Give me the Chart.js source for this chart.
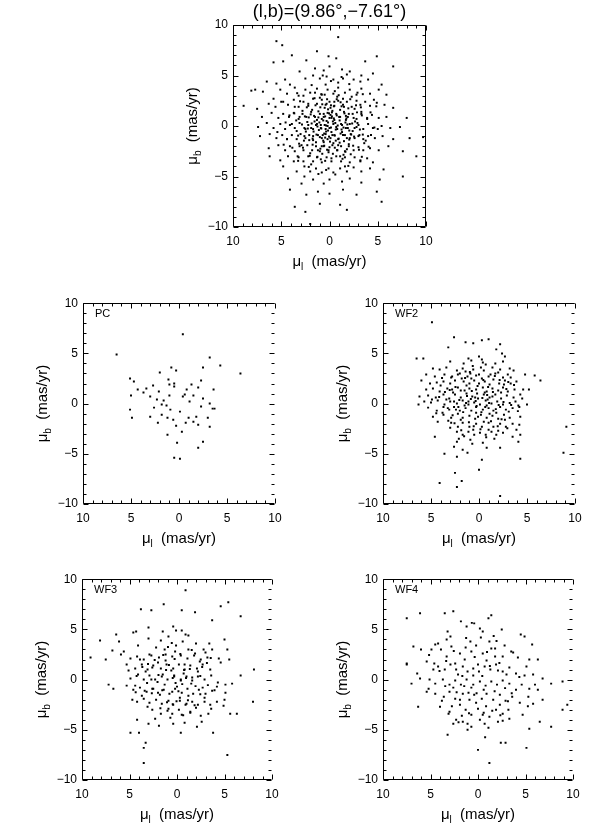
<!DOCTYPE html>
<html><head><meta charset="utf-8">
<script src="https://cdn.jsdelivr.net/npm/chart.js@4.4.1/dist/chart.umd.min.js"></script>
<style>
html,body{margin:0;padding:0;background:#fff;}
body{width:600px;height:832px;position:relative;overflow:hidden;}
canvas{position:absolute;}
</style></head><body>
<canvas id="cTop"></canvas>
<canvas id="cPC"></canvas>
<canvas id="cWF2"></canvas>
<canvas id="cWF3"></canvas>
<canvas id="cWF4"></canvas>
<script>
// ---- tick labels ----
const tickValues = [-10, -5, 0, 5, 10];
const xTickLabels = ['10', '5', '0', '5', '10'];
const yTickLabels = ['\u221210', '\u22125', '0', '5', '10'];

// ---- titles ----
const mainTitle = '(l,b)=(9.86\u00b0,\u22127.61\u00b0)';
const panelNames = ['PC', 'WF2', 'WF3', 'WF4'];

// ---- data: [mu_l, mu_b] in mas/yr ----
const topPoints = [
[-0.9,8.8],[5.5,8.4],[4.9,8.0],[1.3,7.4],[3.9,7.0],[5.8,6.3],[4.8,6.4],[2.4,6.5],[0.1,6.9],[-0.7,6.7],[-3.7,6.4],[-4.9,6.9],[-6.6,5.9],
[1.5,5.7],[0.6,5.5],[0.0,5.9],[-1.3,5.6],[-2.1,5.4],[3.1,5.4],[-3.3,5.0],[-4.5,5.2],
[6.5,4.4],[5.5,4.2],[4.6,4.6],[4.1,4.1],[2.5,4.7],[1.7,5.0],[1.0,4.7],[0.3,4.9],[-0.4,4.6],[-1.4,4.7],[-2.5,4.6],[-3.2,4.4],[-4.0,4.6],[-5.4,4.1],
[7.7,3.6],[8.1,3.5],[6.9,3.4],[5.8,2.7],[5.1,3.6],[4.4,3.2],[3.6,3.8],[3.2,3.0],[2.5,3.6],[2.0,3.3],[1.3,3.7],[0.8,3.1],[0.2,3.6],[-0.4,3.2],[-0.9,3.8],[-1.6,3.3],[-2.1,3.6],[-2.8,3.1],[-3.3,3.7],[-4.2,3.2],[-5.1,3.6],[-5.9,3.1],
[8.9,2.0],[7.5,1.7],[6.3,2.2],[5.6,1.9],[5.0,2.4],[4.3,2.1],[3.7,2.6],[3.2,1.9],[2.7,2.4],[2.2,2.0],[1.7,2.7],[1.3,2.2],[0.8,2.6],[0.4,2.1],[0.0,2.4],[-0.5,2.0],[-0.9,2.5],[-1.4,2.1],[-1.8,2.4],[-2.3,1.9],[-2.8,2.5],[-3.2,2.1],[-3.7,2.4],[-4.2,2.0],[-4.9,2.3],[-5.7,2.1],[-6.6,1.8],
[7.0,0.9],[6.0,1.3],[5.3,0.8],[4.8,1.2],[4.2,0.9],[3.7,1.3],[3.2,0.7],[2.8,1.2],[2.4,0.9],[1.9,1.4],[1.5,0.9],[1.0,1.2],[0.6,0.9],[0.2,1.3],[-0.2,0.8],[-0.7,1.2],[-1.1,0.9],[-1.5,1.4],[-1.9,0.9],[-2.4,1.2],[-2.8,0.7],[-3.3,1.2],[-3.9,0.8],[-4.4,1.1],[-5.1,0.8],[-5.9,0.9],[-8.0,0.8],
[7.4,-0.1],[6.5,0.3],[5.8,-0.2],[5.1,0.2],[4.6,-0.3],[4.1,0.1],[3.6,-0.2],[3.1,0.3],[2.6,-0.2],[2.2,0.1],[1.7,-0.3],[1.3,0.2],[0.9,-0.2],[0.5,0.1],[0.0,-0.2],[-0.4,0.2],[-0.8,-0.3],[-1.3,0.1],[-1.7,-0.2],[-2.1,0.2],[-2.6,-0.2],[-3.0,0.1],[-3.5,-0.3],[-4.0,0.2],[-4.5,-0.2],[-5.4,0.0],[-6.3,-0.2],[-7.3,-0.1],
[7.2,-1.0],[6.2,-0.8],[5.5,-1.2],[4.9,-0.9],[4.4,-1.3],[3.9,-0.9],[3.4,-1.3],[3.0,-0.8],[2.5,-1.2],[2.1,-0.9],[1.7,-1.4],[1.2,-0.9],[0.8,-1.2],[0.4,-0.8],[-0.1,-1.2],[-0.5,-0.9],[-0.9,-1.3],[-1.4,-0.9],[-1.8,-1.2],[-2.2,-0.8],[-2.6,-1.2],[-3.1,-0.9],[-3.5,-1.3],[-4.0,-1.0],[-4.7,-1.2],[-5.5,-1.0],[-6.6,-1.3],[-8.3,-1.2],[-9.7,-1.1],
[6.3,-2.2],[5.3,-1.9],[4.6,-2.4],[4.1,-2.0],[3.6,-2.5],[3.1,-2.0],[2.7,-2.4],[2.3,-1.9],[1.8,-2.4],[1.4,-2.0],[1.0,-2.5],[0.6,-2.0],[0.1,-2.4],[-0.3,-1.9],[-0.8,-2.4],[-1.2,-2.0],[-1.6,-2.5],[-2.0,-2.0],[-2.5,-2.4],[-3.0,-2.1],[-3.5,-2.4],[-4.2,-2.2],[-5.1,-2.4],[-6.1,-2.0],
[6.2,-3.0],[5.1,-3.4],[4.3,-3.0],[3.7,-3.5],[3.2,-3.1],[2.7,-3.5],[2.2,-3.0],[1.7,-3.5],[1.3,-3.1],[0.8,-3.6],[0.3,-3.1],[-0.2,-3.5],[-0.7,-3.0],[-1.2,-3.5],[-1.6,-3.1],[-2.1,-3.6],[-2.6,-3.1],[-3.2,-3.5],[-3.9,-3.2],[-4.5,-3.6],[-7.6,-2.5],[-9.0,-3.0],
[4.8,-4.0],[3.4,-4.5],[2.6,-4.0],[2.0,-4.5],[1.4,-4.2],[0.8,-4.6],[0.1,-4.2],[-0.4,-4.6],[-1.1,-4.2],[-1.8,-4.5],[-2.5,-4.1],[-3.3,-4.5],[-4.2,-4.2],[-5.6,-4.3],
[4.3,-5.2],[2.9,-5.7],[1.7,-5.3],[0.6,-5.7],[0.0,-5.3],[-1.3,-5.5],[-2.1,-5.2],[-3.3,-5.6],[-5.2,-5.3],[-7.6,-5.0],
[2.4,-6.8],[1.2,-6.5],[0.0,-6.7],[-1.4,-6.3],[-2.8,-6.8],[-4.9,-6.5],[4.1,-6.3],
[1.0,-7.7],[-1.1,-7.8],[-5.4,-7.5],[2.5,-8.5],[3.6,-8.0],[-1.8,-8.3],[2.0,-9.7],
[0.3,0.5],[-0.6,0.3],[1.1,-0.4],[-1.7,0.6],[2.3,0.4],[-2.4,-0.5],[0.7,-0.9],[-0.2,-0.6],[1.6,1.0],[-1.1,1.6],[0.5,1.8],[-2.0,1.2],[2.6,-1.0],[-2.9,0.3],[3.1,0.9],[-0.4,-1.7],[1.4,-1.6],[-1.5,-1.5],[0.1,-2.6],[-2.2,-2.8],[2.0,-2.7],[-0.8,2.9],[1.0,2.8],[-1.9,-0.2],[0.9,0.1],[-0.1,1.1],[1.9,-0.2],[-1.3,-0.6],[0.4,-0.3],[-0.7,-0.1],
[0.0,0.8],[-0.3,1.5],[0.6,1.2],[-1.0,0.9],[1.3,0.6],[-1.6,-0.9],[0.2,-1.3],[-0.9,-1.9],[1.7,-1.0],[-2.5,0.8],[2.8,1.5],[-3.0,-1.0],[3.4,-0.5],[-0.5,2.4],[0.8,-2.0],[-1.4,2.7],[2.2,2.2],[-2.6,1.7],[1.2,-2.4],[-1.8,-2.3],[0.5,3.1],[-0.2,-3.2],[2.9,-1.9],[-3.3,1.4],[3.6,1.9],[-3.6,-1.7],[1.5,3.3],[-1.1,-3.0],[0.9,-3.3],[-2.3,2.9],
[-0.5,0.6],[0.2,0.0],[-1.2,0.2],[0.8,0.7],[-0.3,-0.9],[1.0,-1.1],[-2.1,-1.2],[1.8,1.6],[-1.5,1.9],[0.3,2.2],[-0.8,-2.4],[2.5,-0.3],[-2.8,-0.1],[0.6,-1.6],[-0.1,1.8],[1.4,0.1],[-1.7,1.0],[2.1,-1.4],[-2.0,-1.8],[0.0,-2.1],
[3.9,0.2],[-3.9,0.7],[4.4,-1.3],[-4.3,-0.9],[2.7,3.0],[-2.9,3.3],[0.4,4.1],[-0.9,4.3],[1.9,-3.8],[-1.6,-4.0],[3.3,-3.0],[-3.2,-3.4],[4.8,2.4],[-4.6,2.6],[5.4,-0.6],[-5.0,-0.3],[0.7,5.0],[-1.8,5.1],[2.6,-5.0],[-0.6,-4.8],
[0.15,0.35],[-0.45,0.75],[0.85,-0.25],[-1.25,-0.35],[1.55,0.45],[-1.85,0.15],[0.35,-0.55],[-0.25,1.35],[1.15,1.45],[-0.95,-1.25],
[0.65,-1.45],[-1.55,1.25],[2.15,0.85],[-2.25,-0.85],[0.05,-1.05],[-0.65,-0.35],[1.35,-0.85],[-1.05,0.55],[0.45,0.95],[-0.15,-0.15],
[2.45,-0.55],[-2.65,0.45],[1.75,-1.85],[-1.95,1.75],[0.75,2.15],[-0.55,-2.15],[2.85,0.15],[-3.15,-0.35],[0.25,2.65],[-0.35,-2.75],
[1.05,0.35],[-1.45,-0.15],[0.55,-0.75],[-0.75,1.05],[1.85,0.25],[-2.05,-0.45],[0.95,-2.25],[-1.15,2.35],[2.35,1.85],[-2.45,-1.95],
[0.15,1.65],[-0.05,-1.55],[1.45,2.05],[-1.65,-2.55],[2.65,-1.45],[-2.85,1.35],[3.25,-0.95],[-3.35,1.05],[0.85,3.15],[-0.95,3.05],
[1.25,-3.05],[-1.35,-3.25],[3.05,2.45],[-3.05,-2.35],[2.05,-2.95],[-2.15,2.65],[0.45,-3.45],[-0.55,3.45],[3.45,0.55],[-3.45,-0.85],
[0.35,0.05],[-0.85,0.05],[0.65,0.55],[-0.35,0.45],[1.25,-0.05],[-1.15,-0.75],[0.15,-0.45],[-0.55,-0.95],[0.95,1.85],[-1.75,0.75],
[1.65,-0.55],[-2.35,0.25],[2.25,-0.25],[-0.15,2.05],[0.55,-1.95],[-1.25,1.95],[1.95,1.15],[-2.05,-1.35],[0.25,-2.35],[-0.45,1.95],
[2.75,-2.15],[-2.75,2.05],[3.65,1.25],[-3.75,-1.45],[1.55,2.75],[-1.45,-2.85],[0.75,-2.75],[-0.75,2.65],[3.15,-1.75],[-3.25,1.85],
[-0.25,0.95],[0.45,-1.15],[-1.05,-1.65],[1.15,0.85],[-1.65,0.35],[1.75,-1.25],[-0.65,-1.45],[0.05,1.25],[-2.55,-1.05],[2.55,0.95],
[4.15,1.05],[-4.25,1.35],[3.85,-2.15],[-4.05,-2.05],[1.85,4.05],[-2.05,4.15],[2.15,-4.05],[-1.95,-3.95],[4.55,0.35],[-4.65,-0.15],
[0.35,-4.35],[-0.15,4.45],[3.35,3.25],[-3.45,3.15],[3.25,-3.45],[-3.35,-3.05],[4.75,-1.85],[-4.85,1.95],[1.15,-4.75],[-1.25,4.85]
];

const pcPoints = [
[-0.4,6.9],[6.5,4.9],[-3.2,4.6],[-4.3,3.8],[-6.4,3.0],[0.8,3.6],[0.3,3.3],[2.0,3.1],[5.1,2.5],[4.7,2.2],[1.1,2.4],[1.0,1.9],[0.5,1.7],[-1.3,1.9],[-2.3,2.3],[-2.0,1.6],[4.3,1.4],[3.4,1.5],[2.7,1.8],[2.1,1.2],
[5.0,0.8],[1.0,0.8],[-0.4,0.7],[-1.5,0.8],[-0.8,1.4],[-2.5,0.5],[2.3,0.4],[3.0,0.7],[1.8,-0.1],[1.3,-0.2],[-3.2,0.0],[-3.5,-0.5],[-3.7,-0.5],[-2.3,-0.3],[-0.1,-0.8],[5.1,-0.6],[4.9,-1.4],[3.0,-1.3],[1.8,-1.1],[1.2,-1.4],
[0.6,-1.6],[-1.0,-1.4],[-1.5,-1.8],[-1.8,-1.3],[-2.0,-2.1],[-3.0,-1.4],[-3.2,-2.3],[2.2,-1.9],[0.3,-2.2],[-0.7,-1.9],[-0.3,-2.8],[1.2,-3.1],[-2.5,-3.8],[0.2,-3.9],[-2.0,-4.4],[0.5,-5.4],[-0.1,-5.5],[-2.5,3.6],[0.5,2.0],[-3.6,1.4],
[3.7,1.1],[2.6,-0.4],[-1.1,0.2],[0.9,-0.6],[-0.6,0.9],[1.6,0.3]
];

const wf2Points = [
[4.9,8.1],[2.6,6.6],[-1.0,6.4],[-0.3,6.3],[1.4,6.1],[0.6,6.0],[3.2,5.6],[-2.2,5.9],[-1.8,5.4],[-2.4,5.0],
[6.5,4.5],[5.8,4.5],[1.1,4.5],[0.8,4.3],[0.0,4.7],[-0.3,4.4],[-2.7,4.7],[3.0,4.2],[-0.4,4.1],[-0.7,3.9],[-1.7,4.0],[-2.5,4.2],
[4.8,3.5],[4.1,3.4],[3.4,3.6],[2.3,3.3],[1.7,3.5],[0.6,3.4],[-0.5,3.3],[-1.4,3.6],[-2.2,3.4],[-3.2,3.5],[-3.6,3.3],
[5.5,2.9],[4.6,2.7],[3.6,2.9],[2.9,2.6],[2.2,2.9],[1.8,2.5],[1.2,2.7],[0.9,3.0],[0.3,2.8],[-0.3,2.5],[-1.0,2.7],[-1.7,3.0],[-2.5,2.6],[-3.0,2.9],[-4.8,2.9],[-5.8,2.8],
[6.0,2.3],[5.1,2.0],[4.4,2.1],[3.7,2.2],[3.0,2.0],[2.5,2.3],[1.6,2.2],[1.0,2.0],[0.5,2.3],[0.0,2.0],[-0.6,2.2],[-1.1,1.9],[-1.5,2.4],[-2.1,2.0],[-2.7,2.3],[-3.3,2.0],[-3.9,2.2],[-6.4,2.3],
[5.5,1.4],[4.8,1.5],[4.1,1.2],[3.3,1.5],[2.8,1.4],[2.2,1.6],[1.5,1.3],[1.0,1.5],[0.3,1.4],[-0.4,1.6],[-0.8,1.2],[-1.4,1.5],[-2.0,1.3],[-2.5,1.6],[-3.0,1.2],[-3.7,1.4],[-4.6,1.4],[-5.2,1.4],
[6.2,0.7],[5.3,0.8],[4.5,0.6],[3.7,0.9],[3.1,0.5],[2.5,0.9],[1.9,0.6],[1.3,1.0],[0.7,0.7],[0.1,0.5],[-0.5,0.9],[-1.1,0.6],[-1.7,0.9],[-2.3,0.5],[-2.9,0.8],[-3.6,0.6],[-4.3,0.9],
[6.3,-0.1],[5.7,0.2],[5.0,0.1],[4.3,0.3],[3.6,-0.1],[3.0,0.2],[2.3,0.0],[1.7,0.3],[1.1,-0.1],[0.5,0.1],[-0.1,-0.1],[-0.7,0.3],[-1.3,0.0],[-1.9,0.2],[-2.5,-0.1],[-3.2,0.05],[-4.1,-0.2],[-5.0,-0.1],
[5.3,-0.4],[4.4,-0.7],[3.7,-0.35],[3.1,-0.6],[2.6,-0.35],[2.0,-0.7],[1.4,-0.45],[0.8,-0.7],[0.3,-0.35],[-0.4,-0.6],[-1.0,-0.45],[-1.5,-0.7],[-2.2,-0.35],[-2.8,-0.6],[-3.5,-0.45],[-4.2,-0.35],
[3.7,-1.1],[2.9,-1.4],[2.2,-1.0],[1.7,-1.4],[1.0,-1.2],[0.4,-1.5],[-0.2,-1.1],[-0.8,-1.4],[-1.4,-1.2],[-2.0,-1.5],[-2.6,-1.1],[-3.2,-1.4],[-4.3,-1.3],[4.8,-1.3],
[2.9,-1.9],[2.2,-2.3],[1.7,-1.9],[1.0,-2.3],[0.3,-2.0],[-0.3,-2.3],[-1.0,-1.9],[-1.5,-2.3],[-2.2,-2.0],[-2.8,-2.3],[-3.5,-2.0],[-4.2,-2.1],
[2.3,-2.8],[1.7,-3.1],[1.1,-2.8],[0.5,-3.1],[-0.1,-2.9],[-0.7,-3.1],[-1.3,-2.8],[-1.8,-3.1],[-2.5,-2.9],[-3.5,-3.3],[-4.3,-3.1],[4.6,-3.3],
[2.3,-3.8],[0.7,-4.0],[2.6,-4.3],[-0.8,-4.4],[-2.2,-4.4],[-4.1,-3.8],[1.7,-4.6],
[3.6,-5.0],[2.3,-5.3],[1.2,-4.9],[-0.3,-5.6],[-4.3,-5.5],[-8.8,-4.9],[-9.1,-2.3],
[0.0,-6.6],[2.5,-6.9],[1.8,-7.7],[4.1,-7.9],[2.3,-8.3],[-2.2,-9.2],
[0.2,1.0],[-0.9,0.4],[1.5,-0.2],[-1.8,-0.9],[2.7,1.1],[-2.6,1.9],[0.8,2.5],[-0.5,-1.8],[1.9,-1.6],[-3.1,-0.8],[3.4,0.4],[-1.2,2.9],[0.6,-2.6],[2.0,3.0],[-2.0,-2.7],[4.0,1.8],[-3.8,0.2],[1.3,1.8],[-0.2,3.6],[3.0,-2.4],
[-1.6,-3.5],[0.1,-1.3],[-0.6,1.1],[1.1,0.2],[2.4,-0.6],[-2.3,1.1],[3.8,-0.9],[-3.3,2.6],[0.9,-3.6],[-1.0,-2.6],[2.8,2.7],[4.3,-1.8],[-4.5,0.5],[1.6,4.0],[-0.8,-0.2],[0.4,0.6],[-1.4,0.7],[1.9,1.3],[-2.7,-1.6],[3.2,-1.7],
[0.0,2.9],[-3.9,-2.6],[4.9,0.4],[2.1,-3.5],[-0.4,-3.9],[1.4,3.2],[-2.0,3.1],[0.3,-0.9],[-1.1,-1.0],[2.6,0.2],
[0.35,0.25],[-0.65,-0.35],[1.25,0.75],[-1.45,1.15],[2.15,-0.35],[-2.05,-0.15],[0.75,1.25],[-0.25,-0.85],[1.65,-0.85],[-1.25,-1.75],
[0.15,1.75],[-0.45,2.35],[2.45,1.65],[-2.85,1.45],[3.25,-0.45],[-3.35,-0.15],[1.05,-1.85],[-0.85,0.85],[0.55,-2.25],[-1.65,2.75],
[2.75,-1.15],[-2.35,-1.55],[3.55,1.15],[-3.05,2.15],[1.45,2.55],[-0.15,-2.55],[0.95,3.15],[-1.95,-2.25],[4.15,0.65],[-4.05,-0.75],
[2.05,0.35],[-1.05,0.05],[0.25,-0.25],[1.85,-2.65],[-2.55,0.15],[3.05,1.35],[-0.75,-3.35],[0.65,3.75],[-3.65,1.85],[4.45,-0.95],
[1.35,0.05],[-0.35,0.55],[2.55,-1.95],[-1.75,-0.55],[0.85,0.45],[-2.15,2.35],[3.85,2.55],[-0.95,1.65],[1.55,-3.25],[-2.95,-2.45]
];

const wf3Points = [
[-0.9,8.9],[1.4,7.5],[-0.5,6.9],[3.8,7.0],[2.7,6.9],[-1.9,6.7],[-5.4,7.7],[-4.6,7.3],[-3.7,5.9],[-6.7,6.3],
[8.1,3.9],[6.4,4.5],[6.1,3.8],[4.6,4.7],[4.3,4.8],[3.0,4.1],[3.0,5.2],[1.5,4.8],[0.4,5.3],[0.1,4.9],[-0.5,4.9],[-1.2,4.4],[-2.0,3.6],[-2.8,3.0],[-3.7,3.0],[-5.0,4.0],[-5.3,3.0],
[6.8,2.9],[5.9,2.5],[9.1,2.2],[7.5,2.0],[4.9,2.1],[4.2,2.3],[3.5,2.0],[2.7,2.4],[1.9,2.2],[1.2,2.5],[0.5,2.3],[-0.4,2.4],[-1.1,2.1],[-1.8,2.4],[-2.5,2.0],[-3.2,2.2],[-4.4,2.1],[-5.5,2.0],
[5.3,1.5],[4.4,1.1],[3.7,1.5],[3.1,1.0],[2.5,1.4],[1.7,1.1],[1.1,1.5],[0.4,1.1],[-0.2,1.5],[-0.8,1.0],[-1.4,1.4],[-2.1,1.1],[-2.7,1.5],[-3.5,1.0],[-8.1,1.0],[-6.7,0.4],
[7.2,-0.5],[6.7,-0.9],[5.3,-0.6],[4.9,0.1],[4.1,0.5],[3.5,0.0],[2.9,0.4],[2.3,0.0],[1.6,0.3],[1.0,0.0],[0.3,0.4],[-0.4,0.0],[-1.0,0.3],[-1.6,-0.1],[-2.2,0.3],[-2.9,0.0],[-4.2,-0.7],[-5.1,-0.5],[-5.8,-0.4],
[4.6,-1.0],[3.9,-0.8],[3.2,-1.2],[2.6,-0.9],[2.0,-1.3],[1.4,-1.0],[0.8,-1.4],[0.2,-0.9],[-0.5,-1.3],[-1.1,-0.9],[-1.7,-1.4],[-2.3,-1.0],[-3.0,-1.4],[-3.7,-1.1],[-5.1,-1.3],[-8.0,-2.2],
[4.2,-2.2],[3.5,-1.9],[2.9,-2.3],[2.2,-2.0],[1.6,-2.4],[0.9,-2.1],[0.4,-2.5],[-0.3,-2.1],[-0.9,-2.5],[-1.6,-2.2],[-2.2,-2.5],[-2.9,-2.2],[-3.5,-2.5],[-4.9,-2.6],[-4.2,-2.2],[-5.6,-3.4],[-6.3,-3.4],
[2.6,-3.0],[1.7,-3.4],[1.0,-3.1],[0.5,-3.4],[-0.5,-3.5],[-1.4,-3.2],[-2.5,-3.6],[-3.3,-3.4],
[4.2,-4.0],[3.0,-4.4],[0.4,-4.4],[-0.8,-4.3],[-2.1,-4.7],[4.9,-5.3],[4.0,-5.3],[-0.4,-5.3],[-3.8,-5.3],[-5.3,-7.5],[3.3,-6.3],[3.5,-6.8],[3.5,-8.3],
[0.6,0.9],[-0.7,0.6],[1.3,-0.5],[-1.5,-0.4],[2.6,1.2],[-2.4,1.8],[0.2,2.8],[-0.3,-1.8],[1.8,-1.5],[-2.7,-0.8],[3.3,0.8],[-1.2,3.0],[0.9,-2.9],[2.2,3.2],[-2.0,-2.8],[3.9,2.0],[-3.6,0.4],[1.2,1.9],[-0.6,3.8],[3.1,-2.7],
[-1.4,-3.3],[0.0,-0.7],[-0.8,1.5],[1.5,0.5],[2.5,-0.9],[-2.2,0.8],[3.7,-1.6],[-3.0,2.7],[0.7,-3.8],[-1.0,-2.4],[2.9,2.5],[4.4,-0.6],[-4.3,-0.3],[1.7,3.9],[-0.4,-0.1],[0.3,0.3],[-1.6,0.2],[2.0,1.7],[-2.9,-1.8],[3.4,-1.1],
[0.1,3.4],[-3.6,-2.9],[5.1,0.9],[2.3,-3.9],[-0.2,-3.0],[1.3,3.0],[-1.9,2.6],[0.5,-1.2],[-1.2,-1.6],[2.7,0.0],[5.6,2.8],[4.7,-2.0],[-4.6,1.7],[-5.0,-2.0],[0.9,4.3],[-0.9,4.5],[1.9,-4.6],[-2.6,-4.2],[4.1,3.4],[-3.4,3.6],
[0.45,0.15],[-0.55,-0.45],[1.15,0.95],[-1.35,1.05],[2.05,-0.25],[-1.95,-0.65],[0.85,1.45],[-0.15,-1.15],[1.55,-1.05],[-1.15,-2.05],
[0.25,2.05],[-0.35,2.55],[2.35,1.95],[-2.65,1.25],[3.15,-0.35],[-3.25,-0.55],[1.05,-2.25],[-0.75,0.95],[0.45,-2.45],[-1.55,2.95],
[2.65,-1.35],[-2.45,-1.45],[3.65,1.25],[-3.15,1.65],[1.45,2.45],[0.05,-2.15],[0.95,3.25],[-1.85,-2.55],[4.25,0.35],[-3.95,-1.05],
[1.95,0.45],[-0.95,0.15],[0.15,-0.35],[1.75,-2.85],[-2.45,0.35],[3.05,1.55],[-0.65,-3.55],[0.55,3.65],[-3.55,2.15],[4.35,-1.25]
];

const wf4Points = [
[-1.2,-8.3],[0.0,-7.0],[-2.9,-6.3],[-2.4,-6.3],[-5.1,-6.8],[3.2,-5.5],[1.1,-5.0],[0.7,-4.7],[-0.7,-4.4],[2.6,-4.4],[-6.5,-4.2],[-7.7,-4.7],[-5.4,-4.9],[6.3,-2.7],[-8.9,-3.0],[-9.4,-2.5],
[6.8,3.3],[7.5,6.1],[6.1,6.6],[3.5,6.6],[2.6,6.8],[-1.4,6.4],[-1.1,6.1],[1.8,5.8],[0.4,5.6],[-0.5,4.8],[-2.5,5.0],[3.2,4.8],[-4.5,4.5],[-4.9,4.3],[-5.7,3.5],
[6.0,3.0],[7.5,1.6],[7.5,1.5],[4.9,3.0],[4.5,3.5],[3.9,3.0],[3.3,4.0],[2.8,3.3],[1.9,2.6],[1.3,3.2],[0.7,2.8],[0.2,3.4],[-0.5,2.6],[-1.2,3.8],[-1.8,3.1],[-2.6,2.3],[-3.5,2.8],[-4.2,2.2],[-5.4,2.0],[-6.3,2.0],
[5.4,1.8],[4.7,1.0],[4.2,1.3],[3.5,1.0],[2.9,1.5],[2.3,1.0],[1.6,1.3],[1.1,0.8],[0.5,1.1],[-0.1,0.8],[-0.7,1.3],[-1.3,1.0],[-1.9,1.5],[-2.6,0.8],[-3.3,1.2],[-4.0,0.6],[-4.9,0.4],[-5.8,0.5],[-6.8,0.1],[-7.7,-0.4],[-8.9,-0.2],
[7.0,-0.4],[6.1,0.1],[5.1,0.0],[4.5,-0.4],[3.7,0.0],[3.0,-0.5],[2.4,-0.1],[1.8,-0.5],[1.2,0.0],[0.5,-0.5],[-0.2,-0.2],[-0.8,-0.6],[-1.4,-0.2],[-2.0,-0.5],[-2.6,-0.1],[-3.3,-0.4],[-4.6,-0.5],[-5.4,-0.9],[-6.3,-1.0],
[5.4,-1.2],[4.5,-1.4],[3.6,-1.7],[3.0,-1.2],[2.4,-1.9],[1.6,-1.4],[0.9,-2.0],[0.4,-1.5],[-0.4,-1.9],[-0.9,-1.4],[-1.6,-2.0],[-2.3,-1.5],[-2.9,-2.1],[-3.6,-1.7],[-4.4,-2.3],[-5.3,-1.7],[-5.8,-2.4],[-6.8,-2.0],
[4.0,-2.7],[3.0,-3.2],[1.9,-2.5],[1.3,-3.0],[0.7,-3.5],[0.0,-2.9],[-0.6,-3.3],[-1.2,-3.7],[-1.9,-3.0],[-2.6,-3.4],[-3.3,-3.9],[-4.7,-3.5],
[2.3,-4.0],[1.6,-4.2],[1.1,-4.4],[-0.2,-4.0],[-2.1,-4.2],
[0.5,0.4],[-0.6,-1.0],[1.4,2.0],[-1.8,2.3],[2.6,-0.8],[-2.3,-2.5],[0.2,-2.3],[3.3,2.3],[-3.0,0.5],[1.0,-1.3],[-0.9,1.9],[2.1,0.5],[-1.5,-3.1],[0.8,3.8],[-2.8,3.4],[3.8,-2.1],[-4.0,-1.0],[1.7,-3.6],[-0.3,4.2],[2.9,4.3],
[-1.1,-4.8],[4.6,1.6],[-3.7,2.7],[0.0,1.5],[1.9,-2.0],[-2.1,0.9],[3.1,-3.4],[-0.5,-3.5],[5.2,-0.9],[-5.1,1.3],[0.7,-0.8],[-1.4,3.1],[2.4,1.6],[-2.6,-4.1],[4.2,3.6],[-0.2,5.1],[1.2,5.3],[-3.2,-3.0],[6.4,0.6],[-6.0,-0.5],
[0.35,2.25],[-0.85,-2.65],[1.65,0.35],[-1.75,-1.15],[2.55,2.85],[-2.25,1.65],[0.95,-3.35],[-0.45,0.35],[3.45,-0.65],[-3.15,-2.15],
[1.25,4.15],[-1.65,4.35],[2.05,-4.25],[-2.35,-3.55],[4.05,0.85],[-4.35,0.25],[0.15,-1.35],[-0.95,2.75],[2.75,-2.65],[-2.85,-0.85],
[1.45,-0.65],[-1.25,1.35],[3.35,1.85],[-3.55,-1.35],[0.65,5.65],[-0.75,-5.75],[5.15,2.45],[-5.25,-2.65],[2.25,-1.25],[-1.95,3.85]
];

const FONT = "'Liberation Sans', Arial, sans-serif";

function drawSubTitle(ctx, main, sub, rest, cx, cy, rotate) {
  ctx.save();
  ctx.translate(cx, cy);
  if (rotate) ctx.rotate(-Math.PI / 2);
  ctx.fillStyle = '#000';
  ctx.textBaseline = 'middle';
  ctx.textAlign = 'left';
  ctx.font = '15px ' + FONT; const w1 = ctx.measureText(main).width; const w3 = ctx.measureText(rest).width;
  ctx.font = '10px ' + FONT; const w2 = ctx.measureText(sub).width;
  let x = -(w1 + w2 + w3) / 2;
  ctx.font = '15px ' + FONT; ctx.fillText(main, x, 0); x += w1;
  ctx.font = '10px ' + FONT; ctx.fillText(sub, x, 5); x += w2;
  ctx.font = '15px ' + FONT; ctx.fillText(rest, x, 0);
  ctx.restore();
}

const idlFrame = {
  id: 'idlFrame',
  afterDatasetsDraw(chart, args, o) {
    const { ctx, chartArea, scales } = chart;
    const xs = scales.x, ys = scales.y;
    const l = Math.round(chartArea.left) + 0.5, r = Math.round(chartArea.right) - 0.5;
    const t = Math.round(chartArea.top) + 0.5, b = Math.round(chartArea.bottom) - 0.5;
    ctx.save();
    ctx.strokeStyle = '#000'; ctx.lineWidth = 1;
    ctx.beginPath();
    ctx.moveTo(r, t); ctx.lineTo(l, t); ctx.lineTo(l, b); ctx.lineTo(r, b);
    if (o.rightLine) ctx.lineTo(r, t);
    ctx.stroke();
    ctx.beginPath();
    for (let v = -10; v <= 10; v++) {
      const len = v % 5 === 0 ? 5 : 3;
      const px = Math.round(xs.getPixelForValue(v)) + 0.5;
      ctx.moveTo(px, b); ctx.lineTo(px, b - len);
      ctx.moveTo(px, t); ctx.lineTo(px, t + len);
      const py = Math.round(ys.getPixelForValue(v)) + 0.5;
      ctx.moveTo(l, py); ctx.lineTo(l + len, py);
      ctx.moveTo(r, py); ctx.lineTo(r - len, py);
    }
    ctx.stroke();
    ctx.fillStyle = '#000';
    if (o.label) {
      ctx.font = '11px ' + FONT;
      ctx.textBaseline = 'middle'; ctx.textAlign = 'left';
      ctx.fillText(o.label, chartArea.left + 12, chartArea.top + 11);
    }
    if (o.title) {
      ctx.font = '18px ' + FONT;
      ctx.textBaseline = 'middle'; ctx.textAlign = 'center';
      ctx.fillText(o.title, (chartArea.left + chartArea.right) / 2, chartArea.top - 13);
    }
    drawSubTitle(ctx, '\u03bc', o.xSub, '  (mas/yr)', (chartArea.left + chartArea.right) / 2, chartArea.bottom + 35, false);
    drawSubTitle(ctx, '\u03bc', 'b', '  (mas/yr)', chartArea.left - 40, (chartArea.top + chartArea.bottom) / 2, true);
    ctx.restore();
  }
};

const panels = [
  { id: 'cTop', pts: topPoints, L: 233, R: 426, T: 25, B: 227, title: mainTitle, label: null, xSub: 'l', rightLine: true },
  { id: 'cPC', pts: pcPoints, L: 83, R: 275, T: 303, B: 504, title: null, label: panelNames[0], xSub: 'l', rightLine: false },
  { id: 'cWF2', pts: wf2Points, L: 383, R: 575, T: 303, B: 504, title: null, label: panelNames[1], xSub: 'l', rightLine: false },
  { id: 'cWF3', pts: wf3Points, L: 82, R: 272, T: 579, B: 780, title: null, label: panelNames[2], xSub: 'l', rightLine: false },
  { id: 'cWF4', pts: wf4Points, L: 383, R: 573, T: 579, B: 780, title: null, label: panelNames[3], xSub: 'l', rightLine: false }
];

panels.forEach(p => {
  const padTop = p.title ? 25 : 12, padLeft = 70, padBottom = 50, padRight = 15;
  const cv = document.getElementById(p.id);
  const w = (p.R - p.L) + padLeft + padRight;
  const h = (p.B - p.T) + padTop + padBottom;
  cv.width = w; cv.height = h;
  cv.style.left = (p.L - padLeft) + 'px'; cv.style.top = (p.T - padTop) + 'px';
  cv.style.width = w + 'px'; cv.style.height = h + 'px';
  new Chart(cv, {
    type: 'scatter',
    data: { datasets: [{ data: p.pts.map(([x, y]) => ({ x, y })), pointStyle: 'rect', pointRadius: 1.4, pointHoverRadius: 1.4, backgroundColor: '#000', borderWidth: 0 }] },
    options: {
      responsive: false, animation: false, events: [],
      layout: { padding: { left: 0, right: padRight, top: padTop, bottom: 0 } },
      plugins: {
        legend: { display: false }, tooltip: { enabled: false }, title: { display: false },
        idlFrame: { label: p.label, title: p.title, xSub: p.xSub, rightLine: p.rightLine }
      },
      scales: {
        x: {
          type: 'linear', min: -10, max: 10, reverse: true,
          afterFit(s) { s.height = padBottom; },
          grid: { display: false, drawTicks: false }, border: { display: false },
          ticks: { stepSize: 5, padding: 7, color: '#000', maxRotation: 0, autoSkip: false, font: { family: FONT, size: 12 },
            callback: (v) => xTickLabels[tickValues.indexOf(v)] }
        },
        y: {
          type: 'linear', min: -10, max: 10,
          afterFit(s) { s.width = padLeft; },
          grid: { display: false, drawTicks: false }, border: { display: false },
          ticks: { stepSize: 5, padding: 5, color: '#000', autoSkip: false, font: { family: FONT, size: 12 },
            callback: (v) => yTickLabels[tickValues.indexOf(v)] }
        }
      }
    },
    plugins: [idlFrame]
  });
});
</script>
</body></html>
